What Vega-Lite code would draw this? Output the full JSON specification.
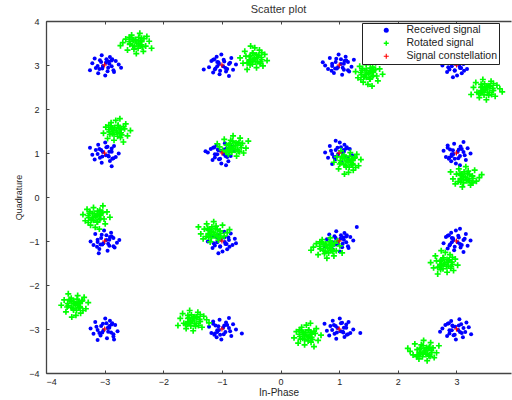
{
"$schema": "https://vega.github.io/schema/vega-lite/v6.json",
"width": 465, "height": 352,
"autosize": {"type": "none"},
"padding": {"left": 46, "top": 21, "right": 1, "bottom": 27},
"background": "white",
"title": {"text": "Scatter plot", "fontSize": 11, "fontWeight": "normal", "font": "Liberation Sans", "color": "#333333", "offset": 2},
"config": {"view": {"stroke": null}, "axis": {"grid": false, "domainColor": "#444444", "tickColor": "#444444", "labelColor": "#262626", "titleColor": "#262626", "labelFont": "Liberation Sans", "titleFont": "Liberation Sans", "labelFontSize": 9, "titleFontSize": 10, "titleFontWeight": "normal", "domainWidth": 1.3, "tickWidth": 1}},
"datasets": {
"received": [
{"x":-2.98,"y":3.05},{"x":-3.08,"y":3.11},{"x":-2.88,"y":2.97},{"x":-3.15,"y":2.93},{"x":-2.95,"y":2.86},{"x":-2.81,"y":3.09},{"x":-3.03,"y":2.98},{"x":-3.21,"y":3.04},{"x":-2.91,"y":3.18},{"x":-3.11,"y":2.81},{"x":-2.84,"y":2.84},{"x":-3.05,"y":3.22},{"x":-2.76,"y":3.01},{"x":-3.17,"y":3.15},{"x":-2.93,"y":3.08},{"x":-3.09,"y":2.91},{"x":-2.87,"y":3.13},{"x":-2.99,"y":2.76},{"x":-3.25,"y":2.88},{"x":-2.72,"y":2.94},
{"x":-2.85,"y":2.88},{"x":-2.92,"y":3.03},{"x":-3.06,"y":3.07},{"x":-3.04,"y":2.92},{"x":-2.94,"y":2.94},{"x":-2.88,"y":3.1},{"x":-3.12,"y":2.98},{"x":-2.97,"y":3.13},
{"x":-1.05,"y":3.02},{"x":-1.11,"y":2.92},{"x":-0.97,"y":3.12},{"x":-0.93,"y":2.85},{"x":-0.86,"y":3.05},{"x":-1.09,"y":3.19},{"x":-0.98,"y":2.97},{"x":-1.04,"y":2.79},{"x":-1.18,"y":3.09},{"x":-0.81,"y":2.89},{"x":-0.84,"y":3.16},{"x":-1.22,"y":2.95},{"x":-1.01,"y":3.24},{"x":-1.15,"y":2.83},{"x":-1.08,"y":3.07},{"x":-0.91,"y":2.91},{"x":-1.13,"y":3.13},{"x":-0.76,"y":3.01},{"x":-0.88,"y":2.75},{"x":-1.31,"y":2.9},
{"x":-1.15,"y":3.12},{"x":-1.08,"y":2.97},{"x":-0.94,"y":2.93},{"x":-0.96,"y":3.08},{"x":-1.06,"y":3.06},{"x":-1.12,"y":2.9},{"x":-0.88,"y":3.02},{"x":-1.03,"y":2.87},
{"x":0.98,"y":2.95},{"x":1.08,"y":2.89},{"x":0.88,"y":3.03},{"x":1.15,"y":3.07},{"x":0.95,"y":3.14},{"x":0.81,"y":2.91},{"x":1.03,"y":3.02},{"x":1.21,"y":2.96},{"x":0.91,"y":2.82},{"x":1.11,"y":3.19},{"x":0.84,"y":3.16},{"x":1.05,"y":2.78},{"x":0.76,"y":2.99},{"x":1.17,"y":2.85},{"x":0.93,"y":2.92},{"x":1.09,"y":3.09},{"x":0.87,"y":2.87},{"x":0.99,"y":3.24},{"x":1.25,"y":3.12},{"x":0.72,"y":3.06},
{"x":1.15,"y":2.88},{"x":1.08,"y":3.03},{"x":0.94,"y":3.07},{"x":0.96,"y":2.92},{"x":1.06,"y":2.94},{"x":1.12,"y":3.1},{"x":0.88,"y":2.98},{"x":1.03,"y":3.13},
{"x":3.05,"y":2.98},{"x":3.11,"y":3.08},{"x":2.97,"y":2.88},{"x":2.93,"y":3.15},{"x":2.86,"y":2.95},{"x":3.09,"y":2.81},{"x":2.98,"y":3.03},{"x":3.04,"y":3.21},{"x":3.18,"y":2.91},{"x":2.81,"y":3.11},{"x":2.84,"y":2.84},{"x":3.22,"y":3.05},{"x":3.01,"y":2.76},{"x":3.15,"y":3.17},{"x":3.08,"y":2.93},{"x":2.91,"y":3.09},{"x":3.13,"y":2.87},{"x":2.76,"y":2.99},{"x":2.88,"y":3.25},{"x":2.94,"y":2.72},
{"x":2.85,"y":3.12},{"x":2.92,"y":2.97},{"x":3.06,"y":2.93},{"x":3.04,"y":3.08},{"x":2.94,"y":3.06},{"x":2.88,"y":2.9},{"x":3.12,"y":3.02},{"x":2.97,"y":2.87},
{"x":-2.98,"y":0.95},{"x":-3.08,"y":0.89},{"x":-2.88,"y":1.03},{"x":-3.15,"y":1.07},{"x":-2.95,"y":1.14},{"x":-2.81,"y":0.91},{"x":-3.03,"y":1.02},{"x":-3.21,"y":0.96},{"x":-2.91,"y":0.82},{"x":-3.11,"y":1.19},{"x":-2.84,"y":1.16},{"x":-3.05,"y":0.78},{"x":-2.76,"y":0.99},{"x":-3.17,"y":0.85},{"x":-2.93,"y":0.92},{"x":-3.09,"y":1.09},{"x":-2.87,"y":0.87},{"x":-2.99,"y":1.24},{"x":-3.25,"y":1.12},{"x":-2.88,"y":0.7},
{"x":-2.85,"y":0.88},{"x":-2.92,"y":1.03},{"x":-3.06,"y":1.07},{"x":-3.04,"y":0.92},{"x":-2.94,"y":0.94},{"x":-2.88,"y":1.1},{"x":-3.12,"y":0.98},{"x":-2.97,"y":1.13},
{"x":-1.02,"y":1.05},{"x":-0.92,"y":1.11},{"x":-1.12,"y":0.97},{"x":-0.85,"y":0.93},{"x":-1.05,"y":0.86},{"x":-1.19,"y":1.09},{"x":-0.97,"y":0.98},{"x":-0.79,"y":1.04},{"x":-1.09,"y":1.18},{"x":-0.89,"y":0.81},{"x":-1.16,"y":0.84},{"x":-0.95,"y":1.22},{"x":-1.24,"y":1.01},{"x":-0.83,"y":1.15},{"x":-1.07,"y":1.08},{"x":-0.91,"y":0.91},{"x":-1.13,"y":1.13},{"x":-1.01,"y":0.76},{"x":-0.93,"y":0.72},{"x":-1.28,"y":1.04},
{"x":-1.15,"y":1.12},{"x":-1.08,"y":0.97},{"x":-0.94,"y":0.93},{"x":-0.96,"y":1.08},{"x":-1.06,"y":1.06},{"x":-1.12,"y":0.9},{"x":-0.88,"y":1.02},{"x":-1.03,"y":0.87},
{"x":1.05,"y":1.02},{"x":1.11,"y":0.92},{"x":0.97,"y":1.12},{"x":0.93,"y":0.85},{"x":0.86,"y":1.05},{"x":1.09,"y":1.19},{"x":0.98,"y":0.97},{"x":1.04,"y":0.79},{"x":1.18,"y":1.09},{"x":0.81,"y":0.89},{"x":0.84,"y":1.16},{"x":1.22,"y":0.95},{"x":1.01,"y":1.24},{"x":1.15,"y":0.83},{"x":1.08,"y":1.07},{"x":0.91,"y":0.91},{"x":1.13,"y":1.13},{"x":0.76,"y":1.01},{"x":0.88,"y":0.75},{"x":0.94,"y":1.28},
{"x":1.15,"y":0.88},{"x":1.08,"y":1.03},{"x":0.94,"y":1.07},{"x":0.96,"y":0.92},{"x":1.06,"y":0.94},{"x":1.12,"y":1.1},{"x":0.88,"y":0.98},{"x":1.03,"y":1.13},
{"x":2.95,"y":0.98},{"x":2.89,"y":1.08},{"x":3.03,"y":0.88},{"x":3.07,"y":1.15},{"x":3.14,"y":0.95},{"x":2.91,"y":0.81},{"x":3.02,"y":1.03},{"x":2.96,"y":1.21},{"x":2.82,"y":0.91},{"x":3.19,"y":1.11},{"x":3.16,"y":0.84},{"x":2.78,"y":1.05},{"x":2.99,"y":0.76},{"x":2.85,"y":1.17},{"x":2.92,"y":0.93},{"x":3.09,"y":1.09},{"x":2.87,"y":0.87},{"x":3.24,"y":0.99},{"x":3.12,"y":1.25},{"x":3.06,"y":0.72},
{"x":2.85,"y":1.12},{"x":2.92,"y":0.97},{"x":3.06,"y":0.93},{"x":3.04,"y":1.08},{"x":2.94,"y":1.06},{"x":2.88,"y":0.9},{"x":3.12,"y":1.02},{"x":2.97,"y":0.87},
{"x":-3.02,"y":-1.05},{"x":-2.92,"y":-1.11},{"x":-3.12,"y":-0.97},{"x":-2.85,"y":-0.93},{"x":-3.05,"y":-0.86},{"x":-3.19,"y":-1.09},{"x":-2.97,"y":-0.98},{"x":-2.79,"y":-1.04},{"x":-3.09,"y":-1.18},{"x":-2.89,"y":-0.81},{"x":-3.16,"y":-0.84},{"x":-2.95,"y":-1.22},{"x":-3.24,"y":-1.01},{"x":-2.83,"y":-1.15},{"x":-3.07,"y":-1.08},{"x":-2.91,"y":-0.91},{"x":-3.13,"y":-1.13},{"x":-3.01,"y":-0.76},{"x":-2.75,"y":-0.98},{"x":-3.1,"y":-1.28},
{"x":-2.85,"y":-1.12},{"x":-2.92,"y":-0.97},{"x":-3.06,"y":-0.93},{"x":-3.04,"y":-1.08},{"x":-2.94,"y":-1.06},{"x":-2.88,"y":-0.9},{"x":-3.12,"y":-1.02},{"x":-2.97,"y":-0.87},
{"x":-0.95,"y":-1.02},{"x":-0.89,"y":-0.92},{"x":-1.03,"y":-1.12},{"x":-1.07,"y":-0.85},{"x":-1.14,"y":-1.05},{"x":-0.91,"y":-1.19},{"x":-1.02,"y":-0.97},{"x":-0.96,"y":-0.79},{"x":-0.82,"y":-1.09},{"x":-1.19,"y":-0.89},{"x":-1.16,"y":-1.16},{"x":-0.78,"y":-0.95},{"x":-0.99,"y":-1.24},{"x":-0.85,"y":-0.83},{"x":-0.92,"y":-1.07},{"x":-1.09,"y":-0.91},{"x":-0.87,"y":-1.13},{"x":-1.24,"y":-1.01},{"x":-0.76,"y":-1.05},{"x":-1.06,"y":-1.28},
{"x":-1.15,"y":-0.88},{"x":-1.08,"y":-1.03},{"x":-0.94,"y":-1.07},{"x":-0.96,"y":-0.92},{"x":-1.06,"y":-0.94},{"x":-1.12,"y":-1.1},{"x":-0.88,"y":-0.98},{"x":-1.03,"y":-1.13},
{"x":1.02,"y":-0.95},{"x":0.92,"y":-0.89},{"x":1.12,"y":-1.03},{"x":0.85,"y":-1.07},{"x":1.05,"y":-1.14},{"x":1.19,"y":-0.91},{"x":0.97,"y":-1.02},{"x":0.79,"y":-0.96},{"x":1.09,"y":-0.82},{"x":0.89,"y":-1.19},{"x":1.16,"y":-1.16},{"x":0.95,"y":-0.78},{"x":1.24,"y":-0.99},{"x":0.83,"y":-0.85},{"x":1.07,"y":-0.92},{"x":0.91,"y":-1.09},{"x":1.13,"y":-0.87},{"x":1.01,"y":-1.24},{"x":0.75,"y":-1.12},{"x":1.3,"y":-0.68},
{"x":1.15,"y":-1.12},{"x":1.08,"y":-0.97},{"x":0.94,"y":-0.93},{"x":0.96,"y":-1.08},{"x":1.06,"y":-1.06},{"x":1.12,"y":-0.9},{"x":0.88,"y":-1.02},{"x":1.03,"y":-0.87},
{"x":2.95,"y":-0.98},{"x":2.89,"y":-1.08},{"x":3.03,"y":-0.88},{"x":3.07,"y":-1.15},{"x":3.14,"y":-0.95},{"x":2.91,"y":-0.81},{"x":3.02,"y":-1.03},{"x":2.96,"y":-1.21},{"x":2.82,"y":-0.91},{"x":3.19,"y":-1.11},{"x":3.16,"y":-0.84},{"x":2.78,"y":-1.05},{"x":2.99,"y":-0.76},{"x":2.85,"y":-1.17},{"x":2.92,"y":-0.93},{"x":3.09,"y":-1.09},{"x":2.87,"y":-0.87},{"x":3.24,"y":-0.99},{"x":3.12,"y":-1.25},{"x":3.06,"y":-0.72},
{"x":2.85,"y":-0.88},{"x":2.92,"y":-1.03},{"x":3.06,"y":-1.07},{"x":3.04,"y":-0.92},{"x":2.94,"y":-0.94},{"x":2.88,"y":-1.1},{"x":3.12,"y":-0.98},{"x":2.97,"y":-1.13},
{"x":-2.95,"y":-2.98},{"x":-2.89,"y":-3.08},{"x":-3.03,"y":-2.88},{"x":-3.07,"y":-3.15},{"x":-3.14,"y":-2.95},{"x":-2.91,"y":-2.81},{"x":-3.02,"y":-3.03},{"x":-2.96,"y":-3.21},{"x":-2.82,"y":-2.91},{"x":-3.19,"y":-3.11},{"x":-3.16,"y":-2.84},{"x":-2.78,"y":-3.05},{"x":-2.99,"y":-2.76},{"x":-2.85,"y":-3.17},{"x":-2.92,"y":-2.93},{"x":-3.09,"y":-3.09},{"x":-2.87,"y":-2.87},{"x":-3.24,"y":-2.99},{"x":-3.12,"y":-3.25},{"x":-2.84,"y":-3.24},
{"x":-2.85,"y":-3.12},{"x":-2.92,"y":-2.97},{"x":-3.06,"y":-2.93},{"x":-3.04,"y":-3.08},{"x":-2.94,"y":-3.06},{"x":-2.88,"y":-2.9},{"x":-3.12,"y":-3.02},{"x":-2.97,"y":-2.87},
{"x":-1.05,"y":-3.02},{"x":-1.11,"y":-2.92},{"x":-0.97,"y":-3.12},{"x":-0.93,"y":-2.85},{"x":-0.86,"y":-3.05},{"x":-1.09,"y":-3.19},{"x":-0.98,"y":-2.97},{"x":-1.04,"y":-2.79},{"x":-1.18,"y":-3.09},{"x":-0.81,"y":-2.89},{"x":-0.84,"y":-3.16},{"x":-1.22,"y":-2.95},{"x":-1.01,"y":-3.24},{"x":-1.15,"y":-2.83},{"x":-1.08,"y":-3.07},{"x":-0.91,"y":-2.91},{"x":-1.13,"y":-3.13},{"x":-0.76,"y":-3.01},{"x":-0.88,"y":-2.75},{"x":-0.66,"y":-3.1},
{"x":-1.15,"y":-2.88},{"x":-1.08,"y":-3.03},{"x":-0.94,"y":-3.07},{"x":-0.96,"y":-2.92},{"x":-1.06,"y":-2.94},{"x":-1.12,"y":-3.1},{"x":-0.88,"y":-2.98},{"x":-1.03,"y":-3.13},
{"x":1.02,"y":-3.05},{"x":0.92,"y":-3.11},{"x":1.12,"y":-2.97},{"x":0.85,"y":-2.93},{"x":1.05,"y":-2.86},{"x":1.19,"y":-3.09},{"x":0.97,"y":-2.98},{"x":0.79,"y":-3.04},{"x":1.09,"y":-3.18},{"x":0.89,"y":-2.81},{"x":1.16,"y":-2.84},{"x":0.95,"y":-3.22},{"x":1.24,"y":-3.01},{"x":0.83,"y":-3.15},{"x":1.07,"y":-3.08},{"x":0.91,"y":-2.91},{"x":1.13,"y":-3.13},{"x":1.01,"y":-2.76},{"x":0.75,"y":-2.88},{"x":1.36,"y":-3.09},
{"x":1.15,"y":-3.12},{"x":1.08,"y":-2.97},{"x":0.94,"y":-2.93},{"x":0.96,"y":-3.08},{"x":1.06,"y":-3.06},{"x":1.12,"y":-2.9},{"x":0.88,"y":-3.02},{"x":1.03,"y":-2.87},
{"x":2.98,"y":-2.95},{"x":3.08,"y":-2.89},{"x":2.88,"y":-3.03},{"x":3.15,"y":-3.07},{"x":2.95,"y":-3.14},{"x":2.81,"y":-2.91},{"x":3.03,"y":-3.02},{"x":3.21,"y":-2.96},{"x":2.91,"y":-2.82},{"x":3.11,"y":-3.19},{"x":2.84,"y":-3.16},{"x":3.05,"y":-2.78},{"x":2.76,"y":-2.99},{"x":3.17,"y":-2.85},{"x":2.93,"y":-2.92},{"x":3.09,"y":-3.09},{"x":2.87,"y":-2.87},{"x":2.99,"y":-3.24},{"x":3.25,"y":-3.12},{"x":2.72,"y":-3.06},
{"x":2.85,"y":-2.88},{"x":2.92,"y":-3.03},{"x":3.06,"y":-3.07},{"x":3.04,"y":-2.92},{"x":2.94,"y":-2.94},{"x":2.88,"y":-3.1},{"x":3.12,"y":-2.98},{"x":2.97,"y":-3.13}
],
"rotated": [
{"x":-2.47,"y":3.55},{"x":-2.37,"y":3.61},{"x":-2.57,"y":3.47},{"x":-2.3,"y":3.43},{"x":-2.5,"y":3.36},{"x":-2.64,"y":3.59},{"x":-2.42,"y":3.48},{"x":-2.24,"y":3.54},{"x":-2.54,"y":3.68},{"x":-2.34,"y":3.31},{"x":-2.61,"y":3.34},{"x":-2.4,"y":3.72},{"x":-2.69,"y":3.51},{"x":-2.28,"y":3.65},{"x":-2.52,"y":3.58},{"x":-2.36,"y":3.41},{"x":-2.58,"y":3.63},{"x":-2.46,"y":3.26},{"x":-2.2,"y":3.38},{"x":-2.73,"y":3.44},
{"x":-2.45,"y":3.5},{"x":-2.37,"y":3.53},{"x":-2.51,"y":3.57},{"x":-2.49,"y":3.42},{"x":-2.39,"y":3.44},{"x":-2.33,"y":3.6},{"x":-2.57,"y":3.48},{"x":-2.42,"y":3.63},{"x":-2.48,"y":3.58},{"x":-2.52,"y":3.44},{"x":-2.37,"y":3.46},{"x":-2.39,"y":3.56},{"x":-2.55,"y":3.62},{"x":-2.43,"y":3.38},{"x":-2.58,"y":3.53},
{"x":-0.4,"y":3.17},{"x":-0.34,"y":3.07},{"x":-0.48,"y":3.27},{"x":-0.52,"y":3.0},{"x":-0.59,"y":3.2},{"x":-0.36,"y":3.34},{"x":-0.47,"y":3.12},{"x":-0.41,"y":2.94},{"x":-0.27,"y":3.24},{"x":-0.64,"y":3.04},{"x":-0.61,"y":3.31},{"x":-0.23,"y":3.1},{"x":-0.44,"y":3.39},{"x":-0.3,"y":2.98},{"x":-0.37,"y":3.22},{"x":-0.54,"y":3.06},{"x":-0.32,"y":3.28},{"x":-0.69,"y":3.16},{"x":-0.57,"y":2.9},{"x":-0.51,"y":3.43},
{"x":-0.45,"y":3.15},{"x":-0.53,"y":3.12},{"x":-0.39,"y":3.08},{"x":-0.41,"y":3.23},{"x":-0.51,"y":3.21},{"x":-0.57,"y":3.05},{"x":-0.33,"y":3.17},{"x":-0.48,"y":3.02},{"x":-0.42,"y":3.07},{"x":-0.38,"y":3.21},{"x":-0.53,"y":3.19},{"x":-0.51,"y":3.09},{"x":-0.35,"y":3.03},{"x":-0.47,"y":3.27},{"x":-0.32,"y":3.12},
{"x":1.45,"y":2.78},{"x":1.39,"y":2.88},{"x":1.53,"y":2.68},{"x":1.57,"y":2.95},{"x":1.64,"y":2.75},{"x":1.41,"y":2.61},{"x":1.52,"y":2.83},{"x":1.46,"y":3.01},{"x":1.32,"y":2.71},{"x":1.69,"y":2.91},{"x":1.66,"y":2.64},{"x":1.28,"y":2.85},{"x":1.49,"y":2.56},{"x":1.35,"y":2.97},{"x":1.42,"y":2.73},{"x":1.59,"y":2.89},{"x":1.37,"y":2.67},{"x":1.74,"y":2.79},{"x":1.62,"y":3.05},{"x":1.56,"y":2.52},
{"x":1.5,"y":2.8},{"x":1.58,"y":2.83},{"x":1.44,"y":2.87},{"x":1.46,"y":2.72},{"x":1.56,"y":2.74},{"x":1.62,"y":2.9},{"x":1.38,"y":2.78},{"x":1.53,"y":2.93},{"x":1.47,"y":2.88},{"x":1.43,"y":2.74},{"x":1.58,"y":2.76},{"x":1.56,"y":2.86},{"x":1.4,"y":2.92},{"x":1.52,"y":2.68},{"x":1.37,"y":2.83},
{"x":3.52,"y":2.5},{"x":3.42,"y":2.56},{"x":3.62,"y":2.42},{"x":3.35,"y":2.38},{"x":3.55,"y":2.31},{"x":3.69,"y":2.54},{"x":3.47,"y":2.43},{"x":3.29,"y":2.49},{"x":3.59,"y":2.63},{"x":3.39,"y":2.26},{"x":3.66,"y":2.29},{"x":3.45,"y":2.67},{"x":3.74,"y":2.46},{"x":3.33,"y":2.6},{"x":3.57,"y":2.53},{"x":3.41,"y":2.36},{"x":3.63,"y":2.58},{"x":3.51,"y":2.21},{"x":3.25,"y":2.33},{"x":3.78,"y":2.39},
{"x":3.5,"y":2.45},{"x":3.42,"y":2.42},{"x":3.56,"y":2.38},{"x":3.54,"y":2.53},{"x":3.44,"y":2.51},{"x":3.38,"y":2.35},{"x":3.62,"y":2.47},{"x":3.47,"y":2.32},{"x":3.53,"y":2.37},{"x":3.57,"y":2.51},{"x":3.42,"y":2.49},{"x":3.44,"y":2.39},{"x":3.6,"y":2.33},{"x":3.48,"y":2.57},{"x":3.63,"y":2.42},
{"x":-2.85,"y":1.52},{"x":-2.91,"y":1.42},{"x":-2.77,"y":1.62},{"x":-2.73,"y":1.35},{"x":-2.66,"y":1.55},{"x":-2.89,"y":1.69},{"x":-2.78,"y":1.47},{"x":-2.84,"y":1.29},{"x":-2.98,"y":1.59},{"x":-2.61,"y":1.39},{"x":-2.64,"y":1.66},{"x":-3.02,"y":1.45},{"x":-2.81,"y":1.74},{"x":-2.95,"y":1.33},{"x":-2.88,"y":1.57},{"x":-2.71,"y":1.41},{"x":-2.93,"y":1.63},{"x":-2.56,"y":1.51},{"x":-2.68,"y":1.25},{"x":-2.74,"y":1.78},
{"x":-2.8,"y":1.5},{"x":-2.72,"y":1.53},{"x":-2.86,"y":1.57},{"x":-2.84,"y":1.42},{"x":-2.74,"y":1.44},{"x":-2.68,"y":1.6},{"x":-2.92,"y":1.48},{"x":-2.77,"y":1.63},{"x":-2.83,"y":1.58},{"x":-2.87,"y":1.44},{"x":-2.72,"y":1.46},{"x":-2.74,"y":1.56},{"x":-2.9,"y":1.62},{"x":-2.78,"y":1.38},{"x":-2.93,"y":1.53},
{"x":-0.82,"y":1.1},{"x":-0.72,"y":1.04},{"x":-0.92,"y":1.18},{"x":-0.65,"y":1.22},{"x":-0.85,"y":1.29},{"x":-0.99,"y":1.06},{"x":-0.77,"y":1.17},{"x":-0.59,"y":1.11},{"x":-0.89,"y":0.97},{"x":-0.69,"y":1.34},{"x":-0.96,"y":1.31},{"x":-0.75,"y":0.93},{"x":-1.04,"y":1.14},{"x":-0.63,"y":1.0},{"x":-0.87,"y":1.07},{"x":-0.71,"y":1.24},{"x":-0.93,"y":1.02},{"x":-0.81,"y":1.39},{"x":-0.55,"y":1.27},{"x":-1.08,"y":1.21},
{"x":-0.8,"y":1.15},{"x":-0.88,"y":1.12},{"x":-0.74,"y":1.08},{"x":-0.76,"y":1.23},{"x":-0.86,"y":1.21},{"x":-0.92,"y":1.05},{"x":-0.68,"y":1.17},{"x":-0.83,"y":1.02},{"x":-0.77,"y":1.07},{"x":-0.73,"y":1.21},{"x":-0.88,"y":1.19},{"x":-0.86,"y":1.09},{"x":-0.7,"y":1.03},{"x":-0.82,"y":1.27},{"x":-0.67,"y":1.12},
{"x":1.2,"y":0.78},{"x":1.26,"y":0.88},{"x":1.12,"y":0.68},{"x":1.08,"y":0.95},{"x":1.01,"y":0.75},{"x":1.24,"y":0.61},{"x":1.13,"y":0.83},{"x":1.19,"y":1.01},{"x":1.33,"y":0.71},{"x":0.96,"y":0.91},{"x":0.99,"y":0.64},{"x":1.37,"y":0.85},{"x":1.16,"y":0.56},{"x":1.3,"y":0.97},{"x":1.23,"y":0.73},{"x":1.06,"y":0.89},{"x":1.28,"y":0.67},{"x":0.91,"y":0.79},{"x":1.03,"y":1.05},{"x":1.09,"y":0.52},
{"x":1.15,"y":0.8},{"x":1.23,"y":0.83},{"x":1.09,"y":0.87},{"x":1.11,"y":0.72},{"x":1.21,"y":0.74},{"x":1.27,"y":0.9},{"x":1.03,"y":0.78},{"x":1.18,"y":0.93},{"x":1.12,"y":0.88},{"x":1.08,"y":0.74},{"x":1.23,"y":0.76},{"x":1.21,"y":0.86},{"x":1.05,"y":0.92},{"x":1.17,"y":0.68},{"x":1.02,"y":0.83},
{"x":3.17,"y":0.4},{"x":3.07,"y":0.34},{"x":3.27,"y":0.48},{"x":3.0,"y":0.52},{"x":3.2,"y":0.59},{"x":3.34,"y":0.36},{"x":3.12,"y":0.47},{"x":2.94,"y":0.41},{"x":3.24,"y":0.27},{"x":3.04,"y":0.64},{"x":3.31,"y":0.61},{"x":3.1,"y":0.23},{"x":3.39,"y":0.44},{"x":2.98,"y":0.3},{"x":3.22,"y":0.37},{"x":3.06,"y":0.54},{"x":3.28,"y":0.32},{"x":3.16,"y":0.69},{"x":2.9,"y":0.57},{"x":3.43,"y":0.51},
{"x":3.15,"y":0.45},{"x":3.07,"y":0.42},{"x":3.21,"y":0.38},{"x":3.19,"y":0.53},{"x":3.09,"y":0.51},{"x":3.03,"y":0.35},{"x":3.27,"y":0.47},{"x":3.12,"y":0.32},{"x":3.18,"y":0.37},{"x":3.22,"y":0.51},{"x":3.07,"y":0.49},{"x":3.09,"y":0.39},{"x":3.25,"y":0.33},{"x":3.13,"y":0.57},{"x":3.28,"y":0.42},
{"x":-3.2,"y":-0.47},{"x":-3.26,"y":-0.37},{"x":-3.12,"y":-0.57},{"x":-3.08,"y":-0.3},{"x":-3.01,"y":-0.5},{"x":-3.24,"y":-0.64},{"x":-3.13,"y":-0.42},{"x":-3.19,"y":-0.24},{"x":-3.33,"y":-0.54},{"x":-2.96,"y":-0.34},{"x":-2.99,"y":-0.61},{"x":-3.37,"y":-0.4},{"x":-3.16,"y":-0.69},{"x":-3.3,"y":-0.28},{"x":-3.23,"y":-0.52},{"x":-3.06,"y":-0.36},{"x":-3.28,"y":-0.58},{"x":-2.91,"y":-0.46},{"x":-3.03,"y":-0.2},{"x":-3.09,"y":-0.73},
{"x":-3.15,"y":-0.45},{"x":-3.07,"y":-0.42},{"x":-3.21,"y":-0.38},{"x":-3.19,"y":-0.53},{"x":-3.09,"y":-0.51},{"x":-3.03,"y":-0.35},{"x":-3.27,"y":-0.47},{"x":-3.12,"y":-0.32},{"x":-3.18,"y":-0.37},{"x":-3.22,"y":-0.51},{"x":-3.07,"y":-0.49},{"x":-3.09,"y":-0.39},{"x":-3.25,"y":-0.33},{"x":-3.13,"y":-0.57},{"x":-3.28,"y":-0.42},
{"x":-1.13,"y":-0.85},{"x":-1.23,"y":-0.91},{"x":-1.03,"y":-0.77},{"x":-1.3,"y":-0.73},{"x":-1.1,"y":-0.66},{"x":-0.96,"y":-0.89},{"x":-1.18,"y":-0.78},{"x":-1.36,"y":-0.84},{"x":-1.06,"y":-0.98},{"x":-1.26,"y":-0.61},{"x":-0.99,"y":-0.64},{"x":-1.2,"y":-1.02},{"x":-0.91,"y":-0.81},{"x":-1.32,"y":-0.95},{"x":-1.08,"y":-0.88},{"x":-1.24,"y":-0.71},{"x":-1.02,"y":-0.93},{"x":-1.14,"y":-0.56},{"x":-1.4,"y":-0.68},{"x":-0.87,"y":-0.74},
{"x":-1.15,"y":-0.8},{"x":-1.23,"y":-0.83},{"x":-1.09,"y":-0.87},{"x":-1.11,"y":-0.72},{"x":-1.21,"y":-0.74},{"x":-1.27,"y":-0.9},{"x":-1.03,"y":-0.78},{"x":-1.18,"y":-0.93},{"x":-1.12,"y":-0.88},{"x":-1.08,"y":-0.74},{"x":-1.23,"y":-0.76},{"x":-1.21,"y":-0.86},{"x":-1.05,"y":-0.92},{"x":-1.17,"y":-0.68},{"x":-1.02,"y":-0.83},
{"x":0.78,"y":-1.1},{"x":0.88,"y":-1.04},{"x":0.68,"y":-1.18},{"x":0.95,"y":-1.22},{"x":0.75,"y":-1.29},{"x":0.61,"y":-1.06},{"x":0.83,"y":-1.17},{"x":1.01,"y":-1.11},{"x":0.71,"y":-0.97},{"x":0.91,"y":-1.34},{"x":0.64,"y":-1.31},{"x":0.85,"y":-0.93},{"x":0.56,"y":-1.14},{"x":0.97,"y":-1.0},{"x":0.73,"y":-1.07},{"x":0.89,"y":-1.24},{"x":0.67,"y":-1.02},{"x":0.79,"y":-1.39},{"x":1.05,"y":-1.27},{"x":0.52,"y":-1.21},
{"x":0.8,"y":-1.15},{"x":0.88,"y":-1.12},{"x":0.74,"y":-1.08},{"x":0.76,"y":-1.23},{"x":0.86,"y":-1.21},{"x":0.92,"y":-1.05},{"x":0.68,"y":-1.17},{"x":0.83,"y":-1.02},{"x":0.77,"y":-1.07},{"x":0.73,"y":-1.21},{"x":0.88,"y":-1.19},{"x":0.86,"y":-1.09},{"x":0.7,"y":-1.03},{"x":0.82,"y":-1.27},{"x":0.67,"y":-1.12},
{"x":2.85,"y":-1.48},{"x":2.91,"y":-1.58},{"x":2.77,"y":-1.38},{"x":2.73,"y":-1.65},{"x":2.66,"y":-1.45},{"x":2.89,"y":-1.31},{"x":2.78,"y":-1.53},{"x":2.84,"y":-1.71},{"x":2.98,"y":-1.41},{"x":2.61,"y":-1.61},{"x":2.64,"y":-1.34},{"x":3.02,"y":-1.55},{"x":2.81,"y":-1.26},{"x":2.95,"y":-1.67},{"x":2.88,"y":-1.43},{"x":2.71,"y":-1.59},{"x":2.93,"y":-1.37},{"x":2.56,"y":-1.49},{"x":2.68,"y":-1.75},{"x":2.74,"y":-1.22},
{"x":2.8,"y":-1.5},{"x":2.72,"y":-1.53},{"x":2.86,"y":-1.57},{"x":2.84,"y":-1.42},{"x":2.74,"y":-1.44},{"x":2.68,"y":-1.6},{"x":2.92,"y":-1.48},{"x":2.77,"y":-1.63},{"x":2.83,"y":-1.58},{"x":2.87,"y":-1.44},{"x":2.72,"y":-1.46},{"x":2.74,"y":-1.56},{"x":2.9,"y":-1.62},{"x":2.78,"y":-1.38},{"x":2.93,"y":-1.53},
{"x":-3.45,"y":-2.47},{"x":-3.39,"y":-2.37},{"x":-3.53,"y":-2.57},{"x":-3.57,"y":-2.3},{"x":-3.64,"y":-2.5},{"x":-3.41,"y":-2.64},{"x":-3.52,"y":-2.42},{"x":-3.46,"y":-2.24},{"x":-3.32,"y":-2.54},{"x":-3.69,"y":-2.34},{"x":-3.66,"y":-2.61},{"x":-3.28,"y":-2.4},{"x":-3.49,"y":-2.69},{"x":-3.35,"y":-2.28},{"x":-3.42,"y":-2.52},{"x":-3.59,"y":-2.36},{"x":-3.37,"y":-2.58},{"x":-3.74,"y":-2.46},{"x":-3.62,"y":-2.2},{"x":-3.56,"y":-2.73},
{"x":-3.5,"y":-2.45},{"x":-3.42,"y":-2.42},{"x":-3.56,"y":-2.38},{"x":-3.54,"y":-2.53},{"x":-3.44,"y":-2.51},{"x":-3.38,"y":-2.35},{"x":-3.62,"y":-2.47},{"x":-3.47,"y":-2.32},{"x":-3.53,"y":-2.37},{"x":-3.57,"y":-2.51},{"x":-3.42,"y":-2.49},{"x":-3.44,"y":-2.39},{"x":-3.6,"y":-2.33},{"x":-3.48,"y":-2.57},{"x":-3.63,"y":-2.42},
{"x":-1.48,"y":-2.75},{"x":-1.58,"y":-2.69},{"x":-1.38,"y":-2.83},{"x":-1.65,"y":-2.87},{"x":-1.45,"y":-2.94},{"x":-1.31,"y":-2.71},{"x":-1.53,"y":-2.82},{"x":-1.71,"y":-2.76},{"x":-1.41,"y":-2.62},{"x":-1.61,"y":-2.99},{"x":-1.34,"y":-2.96},{"x":-1.55,"y":-2.58},{"x":-1.26,"y":-2.79},{"x":-1.67,"y":-2.65},{"x":-1.43,"y":-2.72},{"x":-1.59,"y":-2.89},{"x":-1.37,"y":-2.67},{"x":-1.49,"y":-3.04},{"x":-1.75,"y":-2.92},{"x":-1.22,"y":-2.86},
{"x":-1.5,"y":-2.8},{"x":-1.58,"y":-2.83},{"x":-1.44,"y":-2.87},{"x":-1.46,"y":-2.72},{"x":-1.56,"y":-2.74},{"x":-1.62,"y":-2.9},{"x":-1.38,"y":-2.78},{"x":-1.53,"y":-2.93},{"x":-1.47,"y":-2.88},{"x":-1.43,"y":-2.74},{"x":-1.58,"y":-2.76},{"x":-1.56,"y":-2.86},{"x":-1.4,"y":-2.92},{"x":-1.52,"y":-2.68},{"x":-1.37,"y":-2.83},
{"x":0.4,"y":-3.13},{"x":0.34,"y":-3.23},{"x":0.48,"y":-3.03},{"x":0.52,"y":-3.3},{"x":0.59,"y":-3.1},{"x":0.36,"y":-2.96},{"x":0.47,"y":-3.18},{"x":0.41,"y":-3.36},{"x":0.27,"y":-3.06},{"x":0.64,"y":-3.26},{"x":0.61,"y":-2.99},{"x":0.23,"y":-3.2},{"x":0.44,"y":-2.91},{"x":0.3,"y":-3.32},{"x":0.37,"y":-3.08},{"x":0.54,"y":-3.24},{"x":0.32,"y":-3.02},{"x":0.69,"y":-3.14},{"x":0.57,"y":-3.4},{"x":0.51,"y":-2.87},
{"x":0.45,"y":-3.15},{"x":0.53,"y":-3.12},{"x":0.39,"y":-3.08},{"x":0.41,"y":-3.23},{"x":0.51,"y":-3.21},{"x":0.57,"y":-3.05},{"x":0.33,"y":-3.17},{"x":0.48,"y":-3.02},{"x":0.42,"y":-3.07},{"x":0.38,"y":-3.21},{"x":0.53,"y":-3.19},{"x":0.51,"y":-3.09},{"x":0.35,"y":-3.03},{"x":0.47,"y":-3.27},{"x":0.32,"y":-3.12},
{"x":2.43,"y":-3.55},{"x":2.53,"y":-3.61},{"x":2.33,"y":-3.47},{"x":2.6,"y":-3.43},{"x":2.4,"y":-3.36},{"x":2.26,"y":-3.59},{"x":2.48,"y":-3.48},{"x":2.66,"y":-3.54},{"x":2.36,"y":-3.68},{"x":2.56,"y":-3.31},{"x":2.29,"y":-3.34},{"x":2.5,"y":-3.72},{"x":2.21,"y":-3.51},{"x":2.62,"y":-3.65},{"x":2.38,"y":-3.58},{"x":2.54,"y":-3.41},{"x":2.32,"y":-3.63},{"x":2.44,"y":-3.26},{"x":2.7,"y":-3.38},{"x":2.17,"y":-3.44},
{"x":2.45,"y":-3.5},{"x":2.37,"y":-3.53},{"x":2.51,"y":-3.57},{"x":2.49,"y":-3.42},{"x":2.39,"y":-3.44},{"x":2.33,"y":-3.6},{"x":2.57,"y":-3.48},{"x":2.42,"y":-3.63},{"x":2.48,"y":-3.58},{"x":2.52,"y":-3.44},{"x":2.37,"y":-3.46},{"x":2.39,"y":-3.56},{"x":2.55,"y":-3.62},{"x":2.43,"y":-3.38},{"x":2.58,"y":-3.53}
],
"constellation": [
{"x":-3,"y":3},{"x":-1,"y":3},{"x":1,"y":3},{"x":3,"y":3},{"x":-3,"y":1},{"x":-1,"y":1},{"x":1,"y":1},{"x":3,"y":1},{"x":-3,"y":-1},{"x":-1,"y":-1},{"x":1,"y":-1},{"x":3,"y":-1},{"x":-3,"y":-3},{"x":-1,"y":-3},{"x":1,"y":-3},{"x":3,"y":-3}
]
},
"layer": [
{"data": {"name": "received"},
 "mark": {"type": "point", "filled": true, "opacity": 1, "size": 16},
 "encoding": {
  "x": {"field": "x", "type": "quantitative", "scale": {"domain": [-4, 3.93], "nice": false, "zero": false}, "axis": {"orient": "bottom", "title": "In-Phase", "values": [-4,-3,-2,-1,0,1,2,3], "tickSize": -3, "labelPadding": 7, "titlePadding": 1}},
  "y": {"field": "y", "type": "quantitative", "scale": {"domain": [-4, 4], "nice": false, "zero": false}, "axis": {"orient": "left", "title": "Quadrature", "values": [-4,-3,-2,-1,0,1,2,3,4], "tickSize": -3, "labelPadding": 10, "titlePadding": 5, "titleFontSize": 9}},
  "color": {"datum": "Received signal", "scale": {"domain": ["Received signal", "Rotated signal", "Signal constellation"], "range": ["#0000ff", "#00ff00", "#ff0000"]},
   "legend": {"title": null, "orient": "none", "legendX": 316, "legendY": 2, "padding": 2, "fillColor": "white", "strokeColor": "#222222", "labelFont": "Liberation Sans", "labelFontSize": 10.5, "labelColor": "#222222", "rowPadding": 2, "symbolOffset": 17, "labelOffset": 15, "symbolSize": 25,
    "encode": {"symbols": {"update": {"size": {"signal": "datum.value === 'Received signal' ? 13 : 25"}}}}}},
  "shape": {"datum": "Received signal", "scale": {"domain": ["Received signal", "Rotated signal", "Signal constellation"], "range": ["circle", "M-1,-0.28H-0.28V-1H0.28V-0.28H1V0.28H0.28V1H-0.28V0.28H-1Z", "M-1,-0.22H-0.22V-1H0.22V-0.22H1V0.22H0.22V1H-0.22V0.22H-1Z"]}}
 }},
{"data": {"name": "rotated"},
 "mark": {"type": "point", "filled": true, "opacity": 1, "size": 36},
 "encoding": {
  "x": {"field": "x", "type": "quantitative", "axis": {"orient": "top", "title": null, "labels": false, "values": [-4,-3,-2,-1,0,1,2,3], "tickSize": -3}},
  "y": {"field": "y", "type": "quantitative"},
  "color": {"datum": "Rotated signal"},
  "shape": {"datum": "Rotated signal"}
 }},
{"data": {"name": "constellation"},
 "mark": {"type": "point", "filled": true, "opacity": 1, "size": 25},
 "encoding": {
  "x": {"field": "x", "type": "quantitative", "axis": null},
  "y": {"field": "y", "type": "quantitative"},
  "color": {"datum": "Signal constellation"},
  "shape": {"datum": "Signal constellation"}
 }}
],
"resolve": {"axis": {"x": "independent"}}
}
